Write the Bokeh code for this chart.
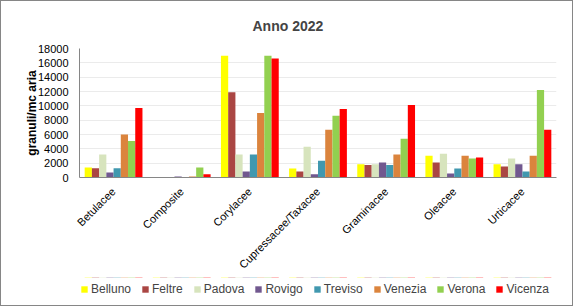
from bokeh.plotting import figure
from bokeh.models import ColumnDataSource, Legend, LegendItem, FixedTicker
from bokeh.layouts import column
from bokeh.transform import dodge
from bokeh.embed import file_html
from bokeh.resources import INLINE
import math

categories = ["Betulacee", "Composite", "Corylacee", "Cupressacee/Taxacee",
              "Graminacee", "Oleacee", "Urticacee"]
cities = ["Belluno", "Feltre", "Padova", "Rovigo", "Treviso", "Venezia", "Verona", "Vicenza"]

Belluno = [1400, 0, 17000, 1250, 1850, 3050, 1850]
Feltre = [1300, 0, 11900, 850, 1750, 2100, 1550]
Padova = [3200, 30, 3200, 4300, 1850, 3300, 2650]
Rovigo = [700, 150, 850, 450, 2080, 550, 1850]
Treviso = [1300, 50, 3200, 2350, 1750, 1250, 850]
Venezia = [6000, 150, 9000, 6650, 3200, 3050, 3050]
Verona = [5100, 1400, 17000, 8600, 5400, 2650, 12200]
Vicenza = [9700, 450, 16600, 9550, 10100, 2800, 6650]

series = [Belluno, Feltre, Padova, Rovigo, Treviso, Venezia, Verona, Vicenza]
colors = ["#FFFF00", "#AA4643", "#D7E4BD", "#71588F", "#4198AF", "#DB843D", "#92D050", "#FF0000"]

y_ticks = list(range(0, 18001, 2000))

FONT = "Liberation Sans"

data = {"cat": categories}
for c, s in zip(cities, series):
    data[c] = s
source = ColumnDataSource(data)

# main chart
p = figure(x_range=categories, y_range=(0, 18000), width=571, height=276,
           output_backend="svg", toolbar_location=None, title="Anno 2022",
           min_border_left=78, min_border_right=16, min_border_top=46, min_border_bottom=100)

p.title.text_font = FONT
p.title.text_font_style = "bold"
p.title.text_font_size = "14px"
p.title.align = "left"
p.title.offset = 173
p.title.standoff = 29

bw = 0.106
for i, (c, col) in enumerate(zip(cities, colors)):
    p.vbar(x=dodge("cat", (i - 3.5) * bw, range=p.x_range), top=c, width=bw,
           source=source, fill_color=col, line_color=None)

p.outline_line_color = None
p.xgrid.grid_line_color = None
p.ygrid.grid_line_color = "#EBEBEB"
p.ygrid.grid_line_width = 1
p.yaxis.ticker = FixedTicker(ticks=y_ticks)

p.yaxis.axis_label = "granuli/mc aria"
p.yaxis.axis_label_text_font = FONT
p.yaxis.axis_label_text_font_style = "bold"
p.yaxis.axis_label_text_font_size = "12px"
p.yaxis.axis_label_text_color = "black"
p.yaxis.axis_label_standoff = -4

for ax in (p.xaxis, p.yaxis):
    ax.axis_line_color = "#868686"
    ax.major_tick_line_color = None
    ax.minor_tick_line_color = None
    ax.major_tick_out = 0
    ax.major_tick_in = 0
    ax.major_label_text_font = FONT
    ax.major_label_text_font_size = "11px"
    ax.major_label_text_color = "black"

p.yaxis.major_label_standoff = 11
p.xaxis.major_label_orientation = math.pi / 4
p.xaxis.major_label_standoff = 12

# legend strip: zero-height copies of the bars lying outside its visible range;
# only the legend shows
pl = figure(x_range=categories, y_range=(-3, -2), width=571, height=28,
            output_backend="svg", toolbar_location=None,
            x_axis_type=None, y_axis_type=None,
            min_border_left=78, min_border_right=16, min_border_top=0, min_border_bottom=0)
pl.outline_line_color = None
items = []
for i, (c, col) in enumerate(zip(cities, colors)):
    r = pl.vbar(x=dodge("cat", (i - 3.5) * bw, range=pl.x_range), top=c, bottom=c,
                width=bw, source=source, fill_color=col, line_color=None)
    items.append(LegendItem(label=c, renderers=[r]))

legend = Legend(items=items, orientation="horizontal", location=(1, 9),
                padding=0, margin=0, spacing=10, glyph_width=8, glyph_height=8,
                label_standoff=3, label_height=10, label_text_font=FONT,
                label_text_font_size="12px", border_line_color=None,
                background_fill_alpha=0)
pl.add_layout(legend, "center")

layout = column(p, pl, spacing=0, styles={"border": "1.5px solid #868686"})

open("out.html", "w").write(file_html(layout, INLINE))
